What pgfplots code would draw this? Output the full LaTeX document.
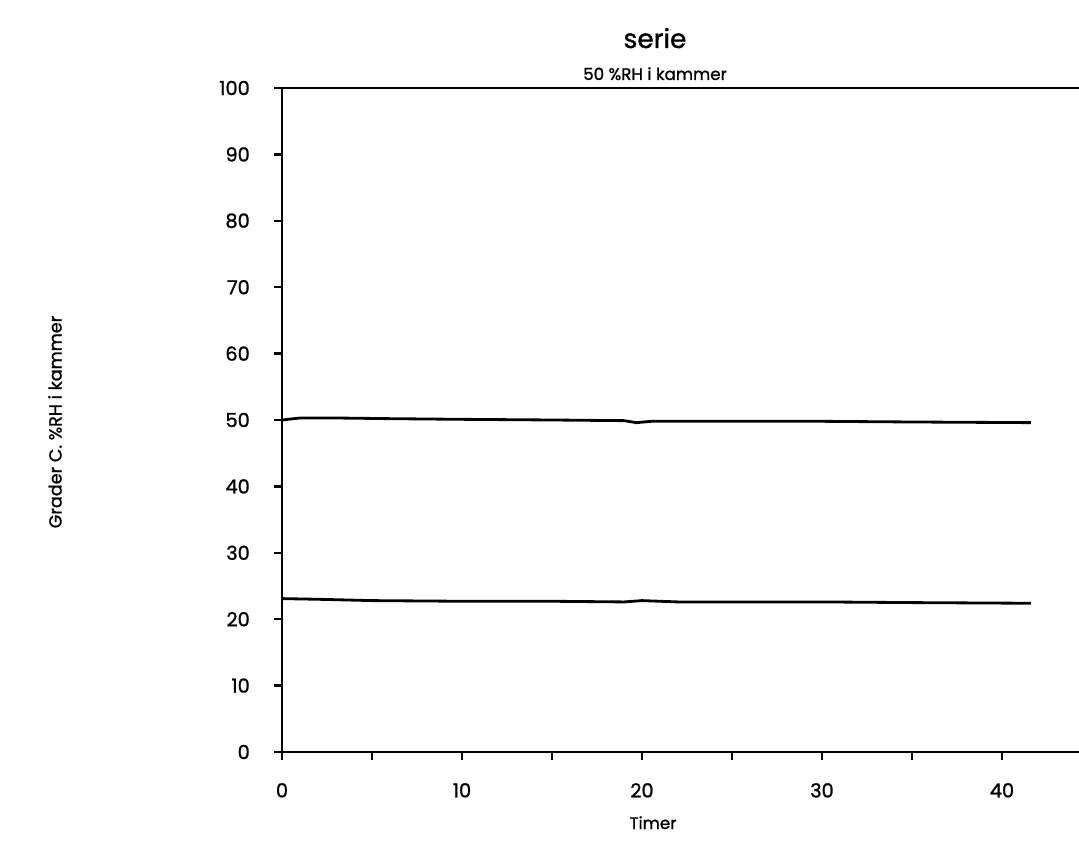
\documentclass[border=0pt]{standalone}
\usepackage{pgfplots}
\pgfplotsset{compat=1.18}
\usepackage{fontspec}
\setmainfont{Poppins}[FakeBold=1.2]

% 1 px of the reference = 0.2 mm
\begin{document}
\begin{tikzpicture}[x=1mm,y=1mm]
  \path[use as bounding box] (0,0) rectangle (215.8,168.4);
  \begin{scope}
  \clip (0,0) rectangle (215.8,168.4);
  \begin{axis}[
      at={(56.4mm,18mm)}, anchor=south west,
      scale only axis,
      width=159.4mm, height=132.8mm,
      xmin=0, xmax=44.28,
      ymin=0, ymax=100,
      axis x line=box, axis y line=left,
      axis line style={-, line width=1.5pt},
      xtick={0,10,...,40}, minor xtick={5,15,...,35},
      ytick={0,10,...,100},
      xtick pos=bottom, ytick pos=left,
      tick align=outside,
      major tick length=1.6mm, minor tick length=1.6mm,
      every tick/.style={black, line width=1.3pt},
      /pgf/number format/assume math mode=true,
      tick label style={font=\fontsize{11}{13}\selectfont},
      yticklabel style={xshift=-3.6mm},
      xticklabel style={yshift=-3.4mm},
    ]
    % upper series (%RH)
    \addplot[black, line width=1.6pt] coordinates {
      (0,50.0) (1,50.3) (3,50.3) (6,50.2) (10,50.1) (15,50.0)
      (19,49.9) (19.7,49.6) (20.5,49.8) (22,49.8) (25,49.8)
      (30,49.8) (35,49.7) (41.6,49.6)};
    % lower series (grader C)
    \addplot[black, line width=1.6pt] coordinates {
      (0,23.1) (2,23.0) (5,22.8) (10,22.7) (15,22.7) (19,22.6)
      (20,22.8) (22,22.6) (25,22.6) (30,22.6) (35,22.5) (41.6,22.4)};
  \end{axis}
  \end{scope}
  \node[font=\fontsize{15}{18}\selectfont, anchor=base] at (131,158.8) {serie};
  \node[font=\fontsize{9.5}{11}\selectfont, anchor=base] at (131,152.4) {50 \%RH i kammer};
  \node[font=\fontsize{9.5}{11}\selectfont, anchor=base] at (130.6,2.6) {Timer};
  \node[font=\fontsize{10}{12}\selectfont, rotate=90] at (11,84) {Grader C. \%RH i kammer};
\end{tikzpicture}
\end{document}
